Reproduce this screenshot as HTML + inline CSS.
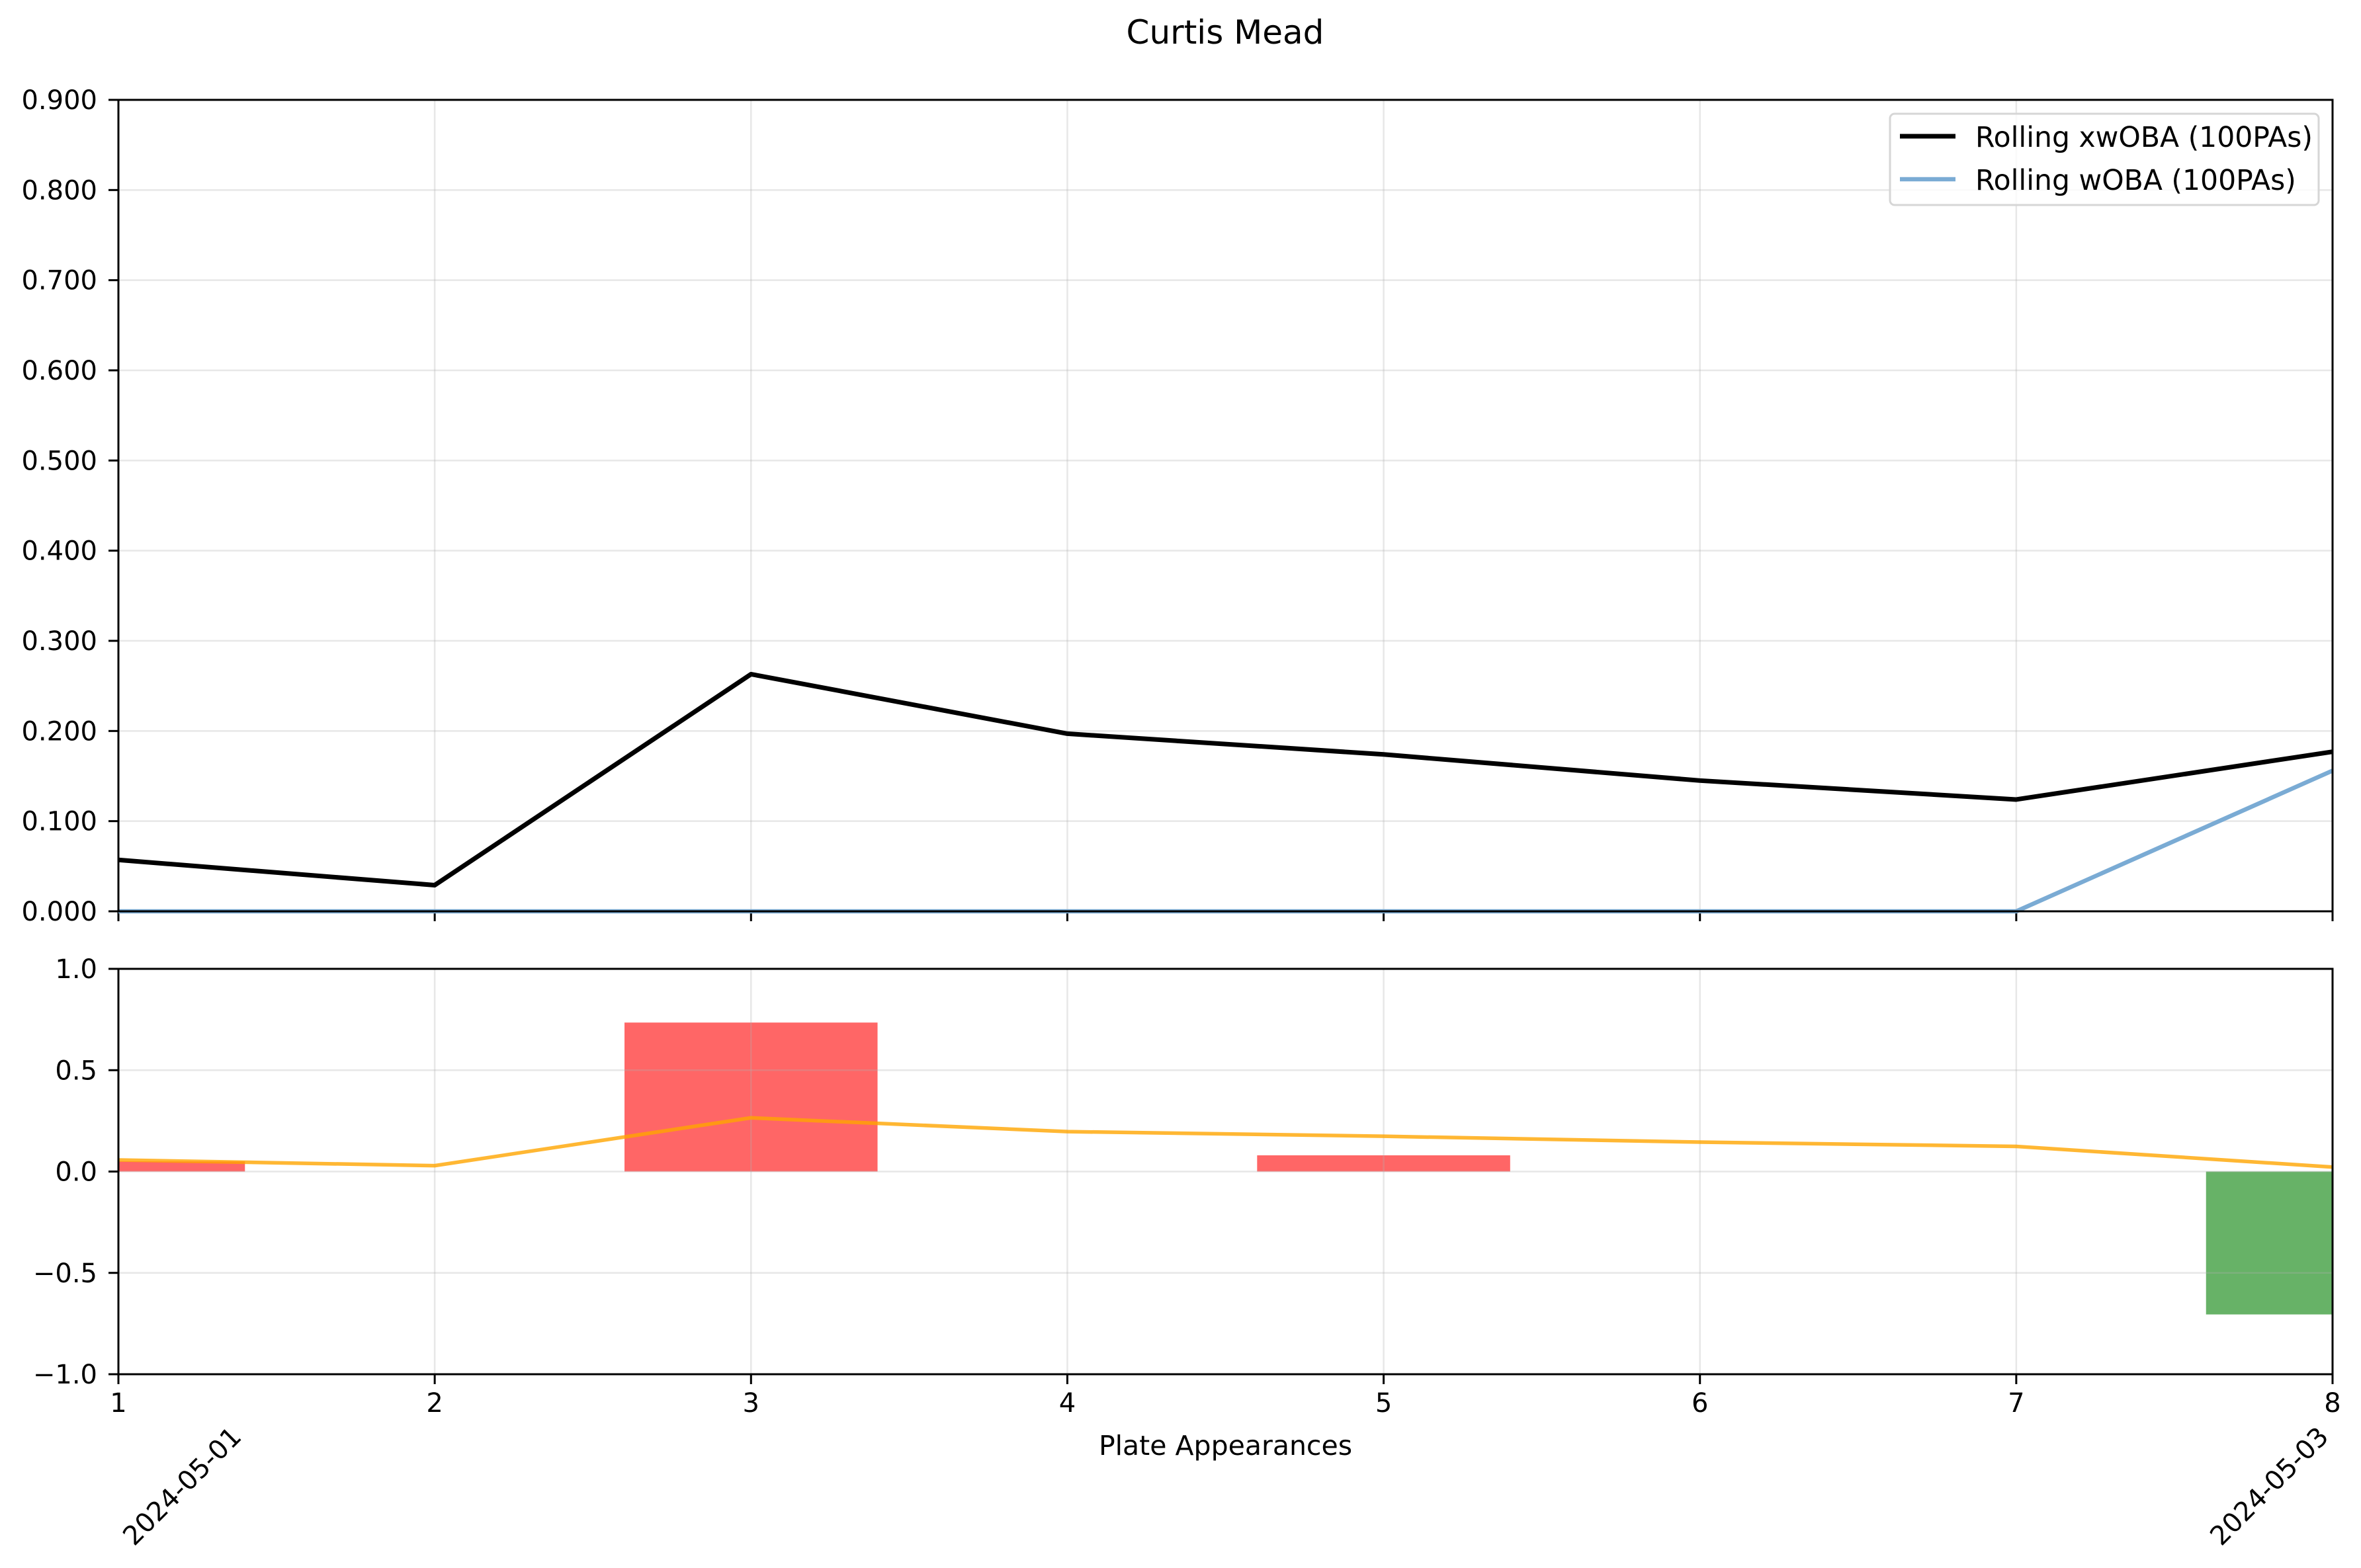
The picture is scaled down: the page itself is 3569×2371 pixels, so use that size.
<!DOCTYPE html>
<html><head><meta charset="utf-8"><style>
html,body{margin:0;padding:0;background:#fff;}
svg{display:block;font-family:"DejaVu Sans","Liberation Sans",sans-serif;}
</style></head><body>
<svg id="chart" width="3569" height="2371" viewBox="0 0 3569 2371" xmlns="http://www.w3.org/2000/svg">
<rect width="3569" height="2371" fill="#fff"/>
<text x="1852" y="66" font-size="50" text-anchor="middle">Curtis Mead</text>
<g id="top"></g>
<g id="bottom"></g>
</svg>
<script>
const xValues = [1,2,3,4,5,6,7,8];
const xwoba = [0.057,0.029,0.263,0.197,0.174,0.145,0.124,0.177];
const woba = [0,0,0,0,0,0,0,0.156];
const diffBars = [0.05,0,0.735,0,0.08,0,0,-0.705];
const orangeLine = [0.057,0.029,0.265,0.197,0.174,0.145,0.124,0.022];
const topTicks = [0,0.1,0.2,0.3,0.4,0.5,0.6,0.7,0.8,0.9];
const topTickLabels = ["0.000","0.100","0.200","0.300","0.400","0.500","0.600","0.700","0.800","0.900"];
const botTicks = [-1,-0.5,0,0.5,1];
const botTickLabels = ["\u22121.0","\u22120.5","0.0","0.5","1.0"];
const dateLabels = ["2024-05-01","2024-05-03"];

const NS="http://www.w3.org/2000/svg";
const L=179,R=3526;
const T1=151,B1=1378,T2=1465,B2=2078;
const xs=v=>L+(v-1)/7*(R-L);
const y1=v=>B1-(v/0.9)*(B1-T1);
const y2=v=>B2-((v+1)/2)*(B2-T2);
function mk(tag,attrs,parent,txt){const e=document.createElementNS(NS,tag);for(const k in attrs)e.setAttribute(k,attrs[k]);if(txt!==undefined)e.textContent=txt;parent.appendChild(e);return e;}
const gTop=document.getElementById('top'),gBot=document.getElementById('bottom');
const gridC="rgba(176,176,176,0.3)";

xValues.forEach(v=>{const l=mk('line',{x1:xs(v),x2:xs(v),y1:T1,y2:B1,stroke:gridC,'stroke-width':2.5},gTop);

});
topTicks.forEach((v,i)=>{const l=mk('line',{x1:L,x2:R,y1:y1(v),y2:y1(v),stroke:gridC,'stroke-width':2.5},gTop);


const t=mk('line',{x1:L-15,x2:L,y1:y1(v),y2:y1(v),stroke:'#000','stroke-width':3},gTop);


const tx=mk('text',{x:L-32,y:y1(v)+14,'font-size':40,'text-anchor':'end'},gTop,topTickLabels[i]);

});
xValues.forEach(v=>{const t=mk('line',{x1:xs(v),x2:xs(v),y1:B1,y2:B1+15,stroke:'#000','stroke-width':3},gTop);

});
const pw=mk('polyline',{points:woba.map((v,i)=>xs(xValues[i])+','+y1(v)).join(' '),fill:'none',stroke:'#7aabd4','stroke-width':6.5,'stroke-linejoin':'round'},gTop);


const px=mk('polyline',{points:xwoba.map((v,i)=>xs(xValues[i])+','+y1(v)).join(' '),fill:'none',stroke:'#000','stroke-width':7,'stroke-linejoin':'round'},gTop);


const f1=mk('rect',{x:L,y:T1,width:R-L,height:B1-T1,fill:'none',stroke:'#000','stroke-width':3},gTop);


const lg=mk('g',{},gTop);


mk('rect',{x:2857,y:172,width:648,height:138,rx:7,fill:'rgba(255,255,255,0.8)',stroke:'#d6d6d6','stroke-width':3},lg);
const le1=mk('g',{},lg);


mk('line',{x1:2872,x2:2956,y1:206,y2:206,stroke:'#000','stroke-width':7},le1);
mk('text',{x:2986,y:222,'font-size':42.5},le1,'Rolling xwOBA (100PAs)');
const le2=mk('g',{},lg);


mk('line',{x1:2872,x2:2956,y1:271,y2:271,stroke:'#7aabd4','stroke-width':6.5},le2);
mk('text',{x:2986,y:287,'font-size':42.5},le2,'Rolling wOBA (100PAs)');

const bw=0.8/7*(R-L);
diffBars.forEach((v,i)=>{if(v===0)return;const x=xs(xValues[i])-bw/2;const x0=Math.max(x,L),x1=Math.min(x+bw,R);
const b=mk('rect',{x:x0,y:Math.min(y2(v),y2(0)),width:x1-x0,height:Math.abs(y2(v)-y2(0)),fill:v>0?'#ff6666':'#67b267'},gBot);

});
xValues.forEach(v=>{const l=mk('line',{x1:xs(v),x2:xs(v),y1:T2,y2:B2,stroke:gridC,'stroke-width':2.5},gBot);


const t=mk('line',{x1:xs(v),x2:xs(v),y1:B2,y2:B2+15,stroke:'#000','stroke-width':3},gBot);


const tx=mk('text',{x:xs(v),y:B2+57,'font-size':40,'text-anchor':'middle'},gBot,String(v));

});
botTicks.forEach((v,i)=>{const l=mk('line',{x1:L,x2:R,y1:y2(v),y2:y2(v),stroke:gridC,'stroke-width':2.5},gBot);


const t=mk('line',{x1:L-15,x2:L,y1:y2(v),y2:y2(v),stroke:'#000','stroke-width':3},gBot);


const tx=mk('text',{x:L-32,y:y2(v)+14,'font-size':40,'text-anchor':'end'},gBot,botTickLabels[i]);

});
const po=mk('polyline',{points:orangeLine.map((v,i)=>xs(xValues[i])+','+y2(v)).join(' '),fill:'none',stroke:'rgba(255,165,0,0.8)','stroke-width':5.5,'stroke-linejoin':'round'},gBot);


const f2=mk('rect',{x:L,y:T2,width:R-L,height:B2-T2,fill:'none',stroke:'#000','stroke-width':3},gBot);


const xl=mk('text',{x:(L+R)/2,y:2200,'font-size':41,'text-anchor':'middle'},gBot,'Plate Appearances');


[[275,dateLabels[0]],[3430,dateLabels[1]]].forEach(([cx,s])=>{const t=mk('text',{x:cx,y:2261,'font-size':40,'text-anchor':'middle',transform:`rotate(-45 ${cx} 2247)`},gBot,s);

});
</script>
</body></html>
